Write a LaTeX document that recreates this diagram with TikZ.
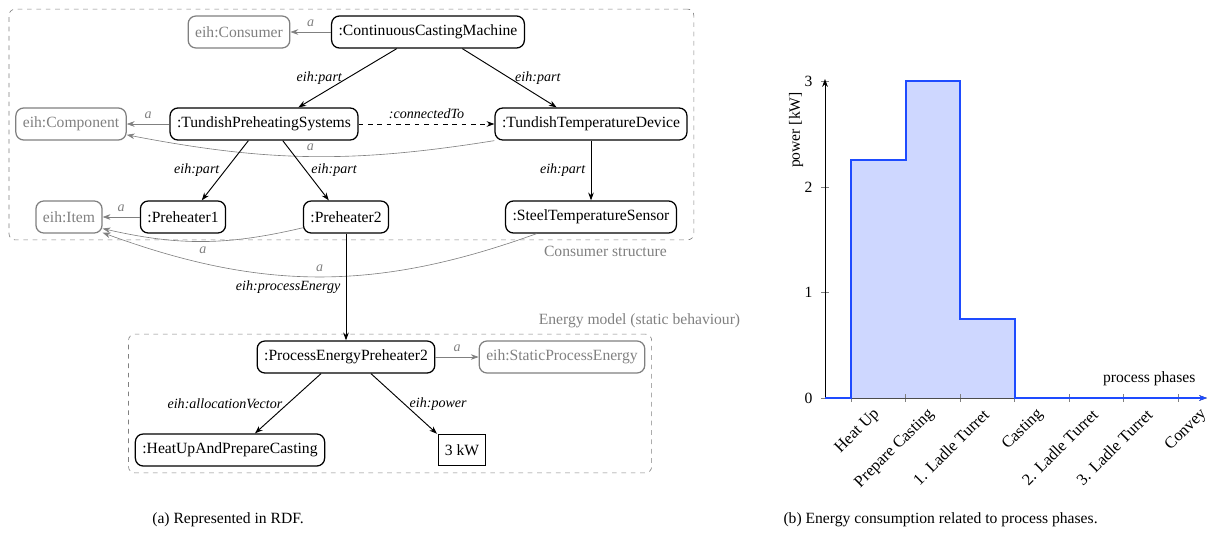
\documentclass[tikz,border=0pt]{standalone}
\usepackage{fontspec}
\setmainfont{Liberation Serif}
\usepackage{tikz}
\usetikzlibrary{arrows.meta}
\usetikzlibrary{shapes}
\usetikzlibrary{fit}
\definecolor{plotblue}{RGB}{30,75,255}

\begin{document}
\begin{tikzpicture}[x=0.0225cm, y=0.0225cm, >={Stealth[length=5pt,width=3.6pt]},
  inst/.style={draw, line width=0.8pt, rounded corners=5pt, inner xsep=4.5pt, minimum height=20.5pt},
  cls/.style={inst, draw=gray, text=gray},
  grp/.style={draw=gray, dashed, rounded corners=4pt, inner sep=4pt},
  grplabel/.style={text=gray},
  rel/.style={->, semithick},
  isa/.style={->, gray},
  lbl/.style={font=\small\itshape},
  phase/.style={rotate=45, anchor=east, font=\fontsize{10.5}{12}\selectfont}]

\useasboundingbox (0,0) rectangle (1214,-548);

% Nodes (RDF graph)
\node (ccm) [inst] at (428,-32) {:ContinuousCastingMachine};
\node (consumer) [cls] at (239,-32) {eih:Consumer};
\node (tps) [inst] at (264,-124) {:TundishPreheatingSystems};
\node (component) [cls] at (71,-124) {eih:Component};
\node (ttd) [inst] at (591,-124) {:TundishTemperatureDevice};
\node (ph1) [inst] at (183,-217) {:Preheater1};
\node (ph2) [inst] at (346,-217) {:Preheater2};
\node (item) [cls] at (69,-217) {eih:Item};
\node (sts) [inst] at (591,-217) {:SteelTemperatureSensor};
\node (pep) [inst] at (346,-357) {:ProcessEnergyPreheater2};
\node (spe) [cls] at (562,-357) {eih:StaticProcessEnergy};
\node (hup) [inst] at (230,-450) {:HeatUpAndPrepareCasting};
\node (kw) [draw, line width=0.8pt, inner xsep=4pt, minimum height=20pt] at (462,-450) {3 kW};

% Groups
\node (cons) [grp, fit=(component)(ccm)(ttd)(item)(sts)] {};
\node (emod) [grp, fit=(pep)(spe)(hup)(kw)] {};
\node (conslabel) [grplabel, anchor=north east] at ([xshift=-14pt]cons.south east) {Consumer structure};
\node (emodlabel) [grplabel, anchor=south] at ([xshift=-8pt]emod.north east) {Energy model (static behaviour)};

% Edges
\draw[isa] (ccm) -- (consumer) node[midway, above, lbl] {a};
\draw[isa] (tps) -- (component) node[midway, above, lbl] {a};
\draw[isa] (ph1) -- (item) node[midway, above, lbl] {a};
\draw[isa] (pep) -- (spe) node[midway, above, lbl] {a};
\draw[isa] (ttd.south west) to[bend left=10] node[midway, above, lbl] {a} (component.-11);
\draw[isa] (ph2.194) to[bend left=13] node[midway, below, lbl] {a} (item.-19);
\draw[isa] (sts.197) to[bend left=20] node[midway, above, lbl] {a} (item.-25);

\draw[rel] ([xshift=-20pt]ccm.south) -- ([xshift=22pt]tps.north) node[midway, left, lbl] {eih:part};
\draw[rel] ([xshift=22pt]ccm.south) -- ([xshift=-22pt]ttd.north) node[midway, right, lbl] {eih:part};
\draw[rel, dashed] (tps) -- (ttd) node[midway, above, lbl] {:connectedTo};
\draw[rel] ([xshift=-10pt]tps.south) -- ([xshift=12pt]ph1.north) node[midway, left, lbl] {eih:part};
\draw[rel] ([xshift=12pt]tps.south) -- ([xshift=-11pt]ph2.north) node[midway, right, lbl] {eih:part};
\draw[rel] (ttd) -- (sts) node[midway, left, lbl] {eih:part};
\draw[rel] (ph2) -- (pep) node[midway, left, lbl] {eih:processEnergy};
\draw[rel] ([xshift=-16pt]pep.south) -- ([xshift=16pt]hup.north) node[midway, left, lbl] {eih:allocationVector};
\draw[rel] ([xshift=16pt]pep.south) -- ([xshift=-16pt]kw.north) node[midway, right, lbl] {eih:power};

% Chart: power per process phase
\fill[plotblue!22] (851,-398) -- (851,-160) -- (906,-160) -- (906,-81) -- (960,-81) -- (960,-319) -- (1015,-319) -- (1015,-398) -- cycle;
\draw[gray] (821,-398) -- (829,-398);
\draw[gray] (821,-292) -- (829,-292);
\draw[gray] (821,-187) -- (829,-187);
\draw[gray] (821,-81) -- (829,-81);
\draw[gray] (851,-394) -- (851,-402);
\draw[gray] (905.5,-394) -- (905.5,-402);
\draw[gray] (960,-394) -- (960,-402);
\draw[gray] (1014.5,-394) -- (1014.5,-402);
\draw[gray] (1069,-394) -- (1069,-402);
\draw[gray] (1123.5,-394) -- (1123.5,-402);
\draw[gray] (1178,-394) -- (1178,-402);
\draw[->, black!70] (825,-398) -- (1207,-398);
\draw[->] (825,-398) -- (825,-79);
\draw[plotblue, thick, ->] (825,-398) -- (851,-398) -- (851,-160) -- (906,-160) -- (906,-81) -- (960,-81)
  -- (960,-319) -- (1015,-319) -- (1015,-398) -- (1207,-398);

\node (y0) [anchor=east] at (818,-398) {0};
\node (y1) [anchor=east] at (818,-292) {1};
\node (y2) [anchor=east] at (818,-187) {2};
\node (y3) [anchor=east] at (818,-81) {3};
\node (ylabel) [rotate=90] at (796,-130) {power [kW]};
\node (xlabel) [anchor=south east] at (1201,-391) {process phases};

\node (p1) [phase] at (881,-408) {Heat Up};
\node (p2) [phase] at (935.5,-408) {Prepare Casting};
\node (p3) [phase] at (990,-408) {1. Ladle Turret};
\node (p4) [phase] at (1044.5,-408) {Casting};
\node (p5) [phase] at (1099,-408) {2. Ladle Turret};
\node (p6) [phase] at (1153.5,-408) {3. Ladle Turret};
\node (p7) [phase] at (1208,-408) {Convey};

% Captions
\node (capa) at (228,-520) {(a) Represented in RDF.};
\node (capb) [anchor=west] at (778,-520) {(b) Energy consumption related to process phases.};

\end{tikzpicture}
\end{document}
